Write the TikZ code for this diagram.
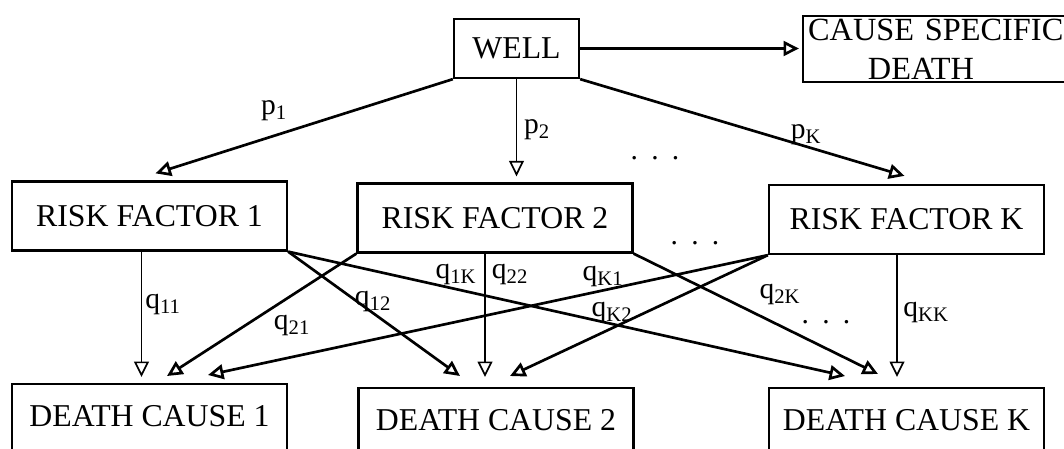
\documentclass[tikz,border=0pt]{standalone}
\usepackage{fontspec}
\setmainfont{Liberation Serif}
\usetikzlibrary{arrows.meta}

\tikzset{
  box/.style={draw, line width=1.6pt, inner sep=0pt, font=\fontsize{22.6}{27}\selectfont},
  rfbox/.style={box, minimum width=6.875cm, minimum height=1.725cm},
  dcbox/.style={box, anchor=north, minimum width=6.875cm, text height=1.05cm, text depth=1.6cm},
  arr/.style={-{Triangle[open, length=11pt, width=10.5pt]}, line width=1.9pt},
  varr/.style={arr, line width=1.2pt},
  lbl/.style={inner sep=1pt, font=\fontsize{21}{24}\selectfont},
}

\begin{document}
\begin{tikzpicture}[x=0.025cm, y=-0.025cm]
        \useasboundingbox (0,0) rectangle (1064,448);
        \clip (0,0) rectangle (1064,448);

        % Top row
        \node[box, minimum width=3.125cm, minimum height=1.475cm] (well) at (516.5,48.5) {WELL};
        \node[box, anchor=north west, text width=7.5cm, align=left, inner xsep=0.125cm,
              minimum height=1.65cm, font=\fontsize{23}{27.6}\selectfont] (csd) at (802,15)
              {CAUSE SPECIFIC\\\hspace*{1.85em}DEATH};

        % Risk factors
        \node[rfbox] (rf1) at (149.5,216) {RISK FACTOR 1};
        \node[rfbox] (rf2) at (495,218) {RISK FACTOR 2};
        \node[rfbox] (rfk) at (906.5,219.5) {RISK FACTOR K};

        % Death causes (cut off at the bottom)
        \node[dcbox] (dc1) at (149.5,383) {DEATH CAUSE 1};
        \node[dcbox] (dc2) at (496,387) {DEATH CAUSE 2};
        \node[dcbox] (dck) at (906.5,387) {DEATH CAUSE K};

        % Well to risk factors
        \draw[arr] (well.east) -- ([shift={(-3,0)}]csd.west |- well.east);
        \draw[arr] (well.south west) -- ([shift={(6,-7)}]rf1.north);
        \draw[varr] (well.south) -- ([shift={(0,-6)}]well.south |- rf2.north);
        \draw[arr] (well.south east) -- ([shift={(-2,-8)}]rfk.north);

        \node[lbl] (p1) at (274,111) {p\textsubscript{1}};
        \node[lbl] (p2) at (537,130) {p\textsubscript{2}};
        \node[lbl] (pk) at (806,135) {p\textsubscript{K}};
        \node[lbl] (dotsa) at (655,158) {.\hspace{0.45em}.\hspace{0.45em}.};
        \node[lbl] (dotsb) at (695,243) {.\hspace{0.45em}.\hspace{0.45em}.};

        % Risk factors to death causes
        \draw[varr] ([shift={(-8,0)}]rf1.south) -- ([shift={(-8,-6)}]dc1.north);
        \draw[arr] (rf2.south west) -- ([shift={(17.5,-7)}]dc1.north);
        \draw[arr] (rfk.south west) -- ([shift={(58.5,-8)}]dc1.north);
        \draw[arr] (rf1.south east) -- ([shift={(-36,-11)}]dc2.north);
        \draw[varr] ([shift={(-10,0)}]rf2.south) -- ([shift={(-11,-10)}]dc2.north);
        \draw[arr] (rfk.south west) -- ([shift={(14,-11)}]dc2.north);
        \draw[arr] (rf1.south east) -- ([shift={(-61.5,-11)}]dck.north);
        \draw[arr] (rf2.south east) -- ([shift={(-28.5,-13)}]dck.north);
        \draw[varr] ([shift={(-9.5,0)}]rfk.south) -- ([shift={(-9.5,-10)}]dck.north);

        \node[lbl] (q11) at (163,305) {q\textsubscript{11}};
        \node[lbl] (q21) at (292,326) {q\textsubscript{21}};
        \node[lbl] (q12) at (373,302) {q\textsubscript{12}};
        \node[lbl] (q1k) at (456,275) {q\textsubscript{1K}};
        \node[lbl] (q22) at (510,275) {q\textsubscript{22}};
        \node[lbl] (qk1) at (603,277) {q\textsubscript{K1}};
        \node[lbl] (qk2) at (612,313) {q\textsubscript{K2}};
        \node[lbl] (q2k) at (780,295) {q\textsubscript{2K}};
        \node[lbl] (qkk) at (926,313) {q\textsubscript{KK}};
        \node[lbl] (dotsc) at (826,322) {.\hspace{0.45em}.\hspace{0.45em}.};
\end{tikzpicture}
\end{document}
